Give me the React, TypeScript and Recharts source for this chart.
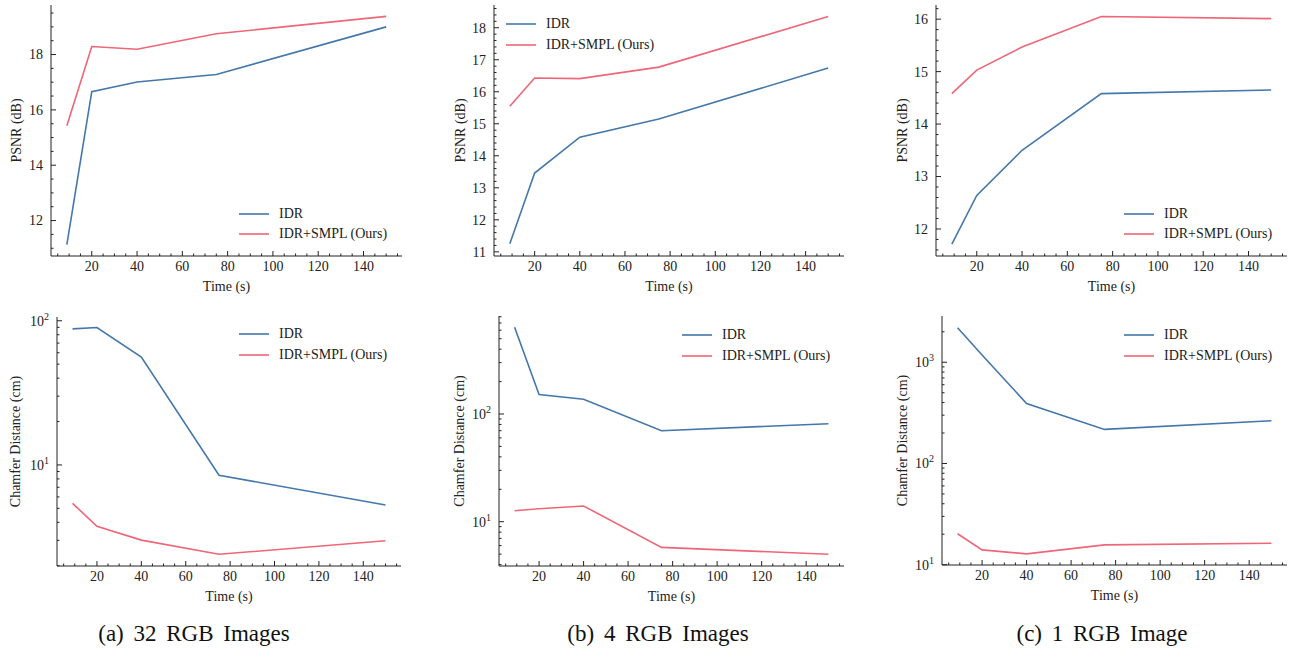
import React from 'react';
import { LineChart, Line, XAxis, YAxis, Legend } from 'recharts';

const FONT = '"Liberation Serif", "Times New Roman", serif';
const INK = '#222';
const BLUE = '#4477AA';
const RED = '#EE6677';

// training time in seconds, shared by every panel
const times = [9, 20, 40, 75, 150];
const timeTicks = [20, 40, 60, 80, 100, 120, 140];
const timeDomain: [number, number] = [2, 157];

// PSNR (dB)
const psnrIdr32 = [11.13, 16.66, 17.01, 17.28, 19.0];
const psnrOurs32 = [15.43, 18.29, 18.19, 18.75, 19.38];
const psnrIdr4 = [11.25, 13.46, 14.58, 15.15, 16.74];
const psnrOurs4 = [15.55, 16.43, 16.41, 16.77, 18.35];
const psnrIdr1 = [11.71, 12.64, 13.5, 14.58, 14.65];
const psnrOurs1 = [14.58, 15.03, 15.47, 16.05, 16.01];

// Chamfer distance (cm), log axis
const cdIdr32 = [87.9, 89.8, 56.0, 8.48, 5.28];
const cdOurs32 = [5.42, 3.75, 3.01, 2.4, 2.98];
const cdIdr4 = [638, 152, 137, 70, 81.3];
const cdOurs4 = [12.65, 13.2, 14.0, 5.78, 4.98];
const cdIdr1 = [2193, 1180, 391, 217, 264];
const cdOurs1 = [20.2, 14.0, 12.8, 15.7, 16.3];

const captions = ['(a) 32 RGB Images', '(b) 4 RGB Images', '(c) 1 RGB Image'];

// minor tick helpers (positions only)
const stepTicks = (lo: number, hi: number, step: number) => {
  const out: number[] = [];
  for (let k = Math.ceil(lo / step - 1e-9); k * step <= hi + 1e-9; k++) out.push(+(k * step).toFixed(4));
  return out;
};
const logTicks = (lo: number, hi: number) => {
  const out: number[] = [];
  for (let e = Math.floor(Math.log10(lo)); e <= Math.ceil(Math.log10(hi)); e++) {
    for (let k = 1; k <= 9; k++) {
      const v = k * Math.pow(10, e);
      if (v >= lo && v <= hi) out.push(v);
    }
  }
  return out;
};

const timeAll = stepTicks(timeDomain[0], timeDomain[1], 5);

type Side = 'left' | 'right' | 'top' | 'bottom';

// ticks point inward, majors get a label on left / bottom
function axisTick(side: Side, majors: number[], log = false) {
  return (props: any) => {
    const { x, y, payload } = props;
    const v = payload.value;
    const major = majors.some((m) => Math.abs(m - v) < 1e-6 * Math.max(1, m));
    const len = major ? 5 : 2.5;
    let p = [x, y, x, y - len];
    if (side === 'top') p = [x, y, x, y + len];
    if (side === 'left') p = [x, y, x + len, y];
    if (side === 'right') p = [x, y, x - len, y];
    let label = null;
    if (major && side === 'bottom') {
      label = (
        <text x={x} y={y + 15} textAnchor="middle" fill={INK} fontSize={14} fontFamily={FONT}>
          {v}
        </text>
      );
    }
    if (major && side === 'left') {
      label = log ? (
        <text x={x - 8} y={y} dy="0.35em" textAnchor="end" fill={INK} fontSize={14} fontFamily={FONT}>
          10<tspan dy={-6} fontSize={10}>{Math.round(Math.log10(v))}</tspan>
        </text>
      ) : (
        <text x={x - 8} y={y} dy="0.35em" textAnchor="end" fill={INK} fontSize={14} fontFamily={FONT}>
          {v}
        </text>
      );
    }
    return (
      <g>
        <line x1={p[0]} y1={p[1]} x2={p[2]} y2={p[3]} stroke={INK} strokeWidth={1} />
        {label}
      </g>
    );
  };
}

type PanelProps = {
  cell: [number, number, number, number];
  plot: { l: number; t: number; r: number; b: number };
  idr: number[];
  ours: number[];
  yDomain: [number, number];
  yTicks: number[];
  yAll: number[];
  log?: boolean;
  yTitle: string;
  titleX: number;
  legendAt: [number, number];
};

function Panel({ cell, plot, idr, ours, yDomain, yTicks, yAll, log, yTitle, titleX, legendAt }: PanelProps) {
  const [cx, cy, cw, ch] = cell;
  const rows = times.map((t, i) => ({ t, idr: idr[i], ours: ours[i] }));
  const margin = { left: 0, top: plot.t - cy, right: cx + cw - plot.r, bottom: cy + ch - plot.b - 44 };
  const common = {
    allowDataOverflow: true,
    interval: 0 as const,
    tickSize: 0,
    tickMargin: 0,
    tickLine: false,
    axisLine: { stroke: INK, strokeWidth: 1 },
  };

  const xTitle = (lp: any) => {
    const vb = lp.viewBox;
    return (
      <text x={vb.x + vb.width / 2} y={vb.y + 35} textAnchor="middle" fill={INK} fontSize={14} fontFamily={FONT}>
        Time (s)
      </text>
    );
  };
  const yTitleFn = (lp: any) => {
    const vb = lp.viewBox;
    const my = vb.y + vb.height / 2;
    return (
      <text
        x={titleX}
        y={my}
        dy="0.35em"
        transform={`rotate(-90 ${titleX} ${my})`}
        textAnchor="middle"
        fill={INK}
        fontSize={14}
        fontFamily={FONT}
      >
        {yTitle}
      </text>
    );
  };

  const legendContent = (lp: any) => (
    <div style={{ fontFamily: FONT, fontSize: 14, color: INK }}>
      {(lp.payload || []).map((e: any) => (
        <div key={e.value} style={{ display: 'flex', alignItems: 'center', height: 20.7, whiteSpace: 'nowrap' }}>
          <svg width={30} height={4} style={{ marginRight: 10 }}>
            <line x1={0} y1={2} x2={30} y2={2} stroke={e.color} strokeWidth={1.6} />
          </svg>
          <span>{e.value}</span>
        </div>
      ))}
    </div>
  );

  return (
    <div style={{ position: 'absolute', left: cx, top: cy }}>
      <LineChart width={cw} height={ch} data={rows} margin={margin}>
        <XAxis
          xAxisId="b"
          dataKey="t"
          type="number"
          orientation="bottom"
          domain={timeDomain}
          ticks={timeAll}
          height={44}
          tick={axisTick('bottom', timeTicks)}
          label={xTitle}
          {...common}
        />
        <XAxis
          xAxisId="t"
          dataKey="t"
          type="number"
          orientation="top"
          domain={timeDomain}
          ticks={timeAll}
          height={0}
          tick={axisTick('top', timeTicks)}
          {...common}
        />
        <YAxis
          yAxisId="l"
          type="number"
          orientation="left"
          scale={log ? 'log' : 'linear'}
          domain={yDomain}
          ticks={yAll}
          width={plot.l - cx}
          tick={axisTick('left', yTicks, log)}
          label={yTitleFn}
          {...common}
        />
        <YAxis
          yAxisId="r"
          type="number"
          orientation="right"
          scale={log ? 'log' : 'linear'}
          domain={yDomain}
          ticks={yAll}
          width={0}
          tick={axisTick('right', yTicks, log)}
          {...common}
        />
        <Legend
          layout="vertical"
          align="center"
          verticalAlign="middle"
          wrapperStyle={{ left: legendAt[0] - cx, top: legendAt[1] - cy - 10.35, width: 'auto', height: 'auto' }}
          content={legendContent}
        />
        <Line
          xAxisId="b"
          yAxisId="l"
          dataKey="idr"
          name="IDR"
          stroke={BLUE}
          strokeWidth={1.6}
          dot={false}
          activeDot={false}
          isAnimationActive={false}
        />
        <Line
          xAxisId="b"
          yAxisId="l"
          dataKey="ours"
          name="IDR+SMPL (Ours)"
          stroke={RED}
          strokeWidth={1.6}
          dot={false}
          activeDot={false}
          isAnimationActive={false}
        />
      </LineChart>
    </div>
  );
}

const captionCenters = [194, 658, 1102];

export default function App() {
  const d1: [number, number] = [10.72, 19.79];
  const d2: [number, number] = [10.87, 18.71];
  const d3: [number, number] = [11.485, 16.27];
  const d4: [number, number] = [1.991, 106.2];
  const d5: [number, number] = [3.88, 812.8];
  const d6: [number, number] = [9.93, 2864];
  return (
    <div style={{ position: 'fixed', left: 0, top: 0, width: 1291, height: 657, background: '#fff', overflow: 'hidden' }}>
      <Panel
        cell={[0, 0, 430, 300]}
        plot={{ l: 51, t: 5, r: 402, b: 256 }}
        idr={psnrIdr32}
        ours={psnrOurs32}
        yDomain={d1}
        yTicks={[12, 14, 16, 18]}
        yAll={stepTicks(d1[0], d1[1], 0.5)}
        yTitle="PSNR (dB)"
        titleX={16}
        legendAt={[239, 213.7]}
      />
      <Panel
        cell={[430, 0, 430, 300]}
        plot={{ l: 494, t: 5, r: 844, b: 256 }}
        idr={psnrIdr4}
        ours={psnrOurs4}
        yDomain={d2}
        yTicks={[11, 12, 13, 14, 15, 16, 17, 18]}
        yAll={stepTicks(d2[0], d2[1], 0.2)}
        yTitle="PSNR (dB)"
        titleX={30}
        legendAt={[506, 24]}
      />
      <Panel
        cell={[860, 0, 431, 300]}
        plot={{ l: 936, t: 5, r: 1287, b: 256 }}
        idr={psnrIdr1}
        ours={psnrOurs1}
        yDomain={d3}
        yTicks={[12, 13, 14, 15, 16]}
        yAll={stepTicks(d3[0], d3[1], 0.2)}
        yTitle="PSNR (dB)"
        titleX={42}
        legendAt={[1124, 213.7]}
      />
      <Panel
        cell={[0, 300, 430, 315]}
        plot={{ l: 57, t: 317, r: 401, b: 566 }}
        idr={cdIdr32}
        ours={cdOurs32}
        yDomain={d4}
        yTicks={[10, 100]}
        yAll={logTicks(d4[0], d4[1])}
        log
        yTitle="Chamfer Distance (cm)"
        titleX={15}
        legendAt={[239, 334.3]}
      />
      <Panel
        cell={[430, 300, 430, 315]}
        plot={{ l: 499, t: 316, r: 844, b: 566 }}
        idr={cdIdr4}
        ours={cdOurs4}
        yDomain={d5}
        yTicks={[10, 100]}
        yAll={logTicks(d5[0], d5[1])}
        log
        yTitle="Chamfer Distance (cm)"
        titleX={29}
        legendAt={[682, 335]}
      />
      <Panel
        cell={[860, 300, 431, 315]}
        plot={{ l: 942, t: 316, r: 1287, b: 565 }}
        idr={cdIdr1}
        ours={cdOurs1}
        yDomain={d6}
        yTicks={[10, 100, 1000]}
        yAll={logTicks(d6[0], d6[1])}
        log
        yTitle="Chamfer Distance (cm)"
        titleX={42}
        legendAt={[1124, 335]}
      />
      {captions.map((c, i) => (
        <div
          key={c}
          style={{
            position: 'absolute',
            left: captionCenters[i] - 200,
            width: 400,
            top: 621,
            textAlign: 'center',
            fontFamily: FONT,
            fontSize: 23,
            wordSpacing: 4,
            color: '#111',
            lineHeight: '26px',
          }}
        >
          {c}
        </div>
      ))}
    </div>
  );
}
